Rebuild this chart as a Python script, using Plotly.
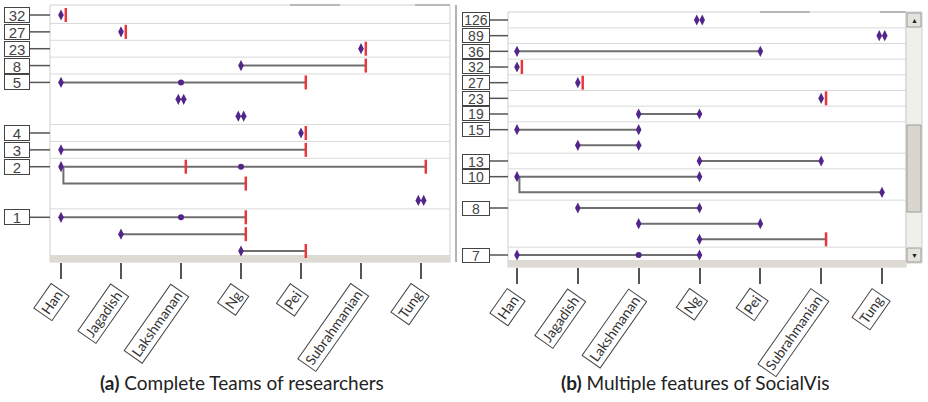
import plotly.graph_objects as go

W, H = 928, 402

researchers = ["Han", "Jagadish", "Lakshmanan", "Ng", "Pei", "Subrahmanian", "Tung"]

# (a) complete teams of researchers, one entry per sub-row
a_team = ["32", "27", "23", "8", "5", "", "", "4", "3", "2", "", "", "1", "", ""]
a_from = ["Han", "Jagadish", "Subrahmanian", "Ng", "Han", "Lakshmanan", "Ng", "Pei",
          "Han", "Han", "Han", "Tung", "Han", "Jagadish", "Ng"]
a_to = ["Han", "Jagadish", "Subrahmanian", "Subrahmanian", "Pei", "Lakshmanan", "Ng", "Pei",
        "Pei", "Tung", "Ng", "Tung", "Ng", "Ng", "Pei"]
a_start = ["diamond"] * 10 + ["branch"] + ["diamond"] * 4
a_end = ["tick", "tick", "tick", "tick", "tick", "pair", "pair", "tick",
         "tick", "tick", "tick", "pair", "tick", "tick", "tick"]
a_dots = [[], [], [], [], ["Lakshmanan"], [], [], [], [], ["Ng"], [], [], ["Lakshmanan"], [], []]
a_marks = [[], [], [], [], [], [], [], [], [], ["Lakshmanan"], [], [], [], [], []]

# (b) multiple features of SocialVis
b_team = ["126", "89", "36", "32", "27", "23", "19", "15", "", "13", "10", "", "8", "", "", "7"]
b_from = ["Ng", "Tung", "Han", "Han", "Jagadish", "Subrahmanian", "Lakshmanan", "Han",
          "Jagadish", "Ng", "Han", "Han", "Jagadish", "Lakshmanan", "Ng", "Han"]
b_to = ["Ng", "Tung", "Pei", "Han", "Jagadish", "Subrahmanian", "Ng", "Lakshmanan",
        "Lakshmanan", "Subrahmanian", "Ng", "Tung", "Ng", "Pei", "Subrahmanian", "Ng"]
b_start = ["diamond"] * 11 + ["branch"] + ["diamond"] * 4
b_end = ["pair", "pair", "diamond", "tick", "tick", "tick", "diamond", "diamond",
         "diamond", "diamond", "diamond", "diamond", "diamond", "diamond", "tick", "diamond"]
b_dots = [[]] * 15 + [["Lakshmanan"]]
b_marks = [[]] * 16

PURPLE = "#52258a"
RED = "#e8383d"
LINE = "#6f6f6f"
TICK = 0.08
PAIR = 0.045
BRANCH = 0.04


def px(x):
    return x / W


def py(y):
    return 1 - y / H


def panel_traces(team, frm, to, start, end, dots, marks, xa, ya):
    lx, ly, dx, dy, tx, ty, cx, cy = [], [], [], [], [], [], [], []
    for i in range(len(frm)):
        a = researchers.index(frm[i])
        b = researchers.index(to[i])
        if end[i] == "pair":
            dx += [a - PAIR, a + PAIR]
            dy += [i, i]
            continue
        x_end = b + TICK if end[i] == "tick" else b
        if start[i] == "branch":
            lx += [a + BRANCH, a + BRANCH, x_end, None]
            ly += [i - 1, i, i, None]
        else:
            dx.append(a)
            dy.append(i)
            if a != b:
                lx += [a, x_end, None]
                ly += [i, i, None]
        if end[i] == "tick":
            tx.append(x_end)
            ty.append(i)
        elif a != b:
            dx.append(b)
            dy.append(i)
        for d in dots[i]:
            cx.append(researchers.index(d))
            cy.append(i)
        for m in marks[i]:
            tx.append(researchers.index(m) + TICK)
            ty.append(i)
    ax = dict(xaxis=xa, yaxis=ya, showlegend=False, hoverinfo="skip")
    return [
        go.Scatter(x=lx, y=ly, mode="lines", line=dict(color=LINE, width=2), **ax),
        go.Scatter(x=cx, y=cy, mode="markers",
                   marker=dict(symbol="circle", size=6, color=PURPLE), **ax),
        go.Scatter(x=dx, y=dy, mode="markers",
                   marker=dict(symbol="diamond-tall", size=8, color=PURPLE), **ax),
        go.Scatter(x=tx, y=ty, mode="markers",
                   marker=dict(symbol="line-ns", size=10,
                               line=dict(color=RED, width=2.5)), **ax),
    ]


fig = go.Figure()
for t in panel_traces(a_team, a_from, a_to, a_start, a_end, a_dots, a_marks, "x", "y"):
    fig.add_trace(t)
for t in panel_traces(b_team, b_from, b_to, b_start, b_end, b_dots, b_marks, "x2", "y2"):
    fig.add_trace(t)

# panel geometry in pixels: left, right, top, bottom, first row y, last row y, Han x, Tung x
geo = {
    "a": dict(l=50, r=450, t=5, b=262, r0=15, r1=251, x0=61, x1=421, lab=30, bw=24,
              bh=14, fs=15, cx=242),
    "b": dict(l=508, r=906, t=12, b=267, r0=20, r1=255, x0=517, x1=882, lab=490, bw=26,
              bh=13, fs=14, cx=695),
}
panels = [("a", "x", "y", a_team, "<b>(a)</b> Complete Teams of researchers"),
          ("b", "x2", "y2", b_team, "<b>(b)</b> Multiple features of SocialVis")]

shapes, annotations = [], []
axes = {}
for key, xa, ya, team, caption in panels:
    g = geo[key]
    n = len(team)
    step = (g["r1"] - g["r0"]) / (n - 1)
    ystep = (g["x1"] - g["x0"]) / 6
    xr = [(g["l"] - g["x0"]) / ystep, (g["r"] - g["x0"]) / ystep]
    yr = [(g["b"] - g["r0"]) / step, -(g["r0"] - g["t"]) / step]
    xname = "xaxis" if xa == "x" else "xaxis2"
    yname = "yaxis" if ya == "y" else "yaxis2"
    axes[xname] = dict(domain=[px(g["l"]), px(g["r"])], range=xr, anchor=ya,
                       showgrid=False, zeroline=False, showticklabels=False,
                       tickvals=list(range(len(researchers))), ticks="outside",
                       ticklen=16, tickwidth=1.5, tickcolor="#555", showline=False)
    axes[yname] = dict(domain=[py(g["b"]), py(g["t"])], range=yr, anchor=xa,
                       showgrid=False, zeroline=False, showticklabels=False,
                       ticks="", showline=False)
    xd, yd = xa + " domain", ya + " domain"
    # frame
    shapes.append(dict(type="rect", xref=xd, yref=yd, x0=0, x1=1, y0=0, y1=1,
                       line=dict(color="#cfcfcf", width=1), layer="below"))
    # grey band at bottom
    shapes.append(dict(type="rect", xref=xd, yref=yd, x0=0, x1=1, y0=0,
                       y1=7 / (g["b"] - g["t"]), fillcolor="#dcdad2",
                       line=dict(width=0), layer="below"))
    # separators and team labels
    for i, lab in enumerate(team):
        if not lab:
            continue
        if i > 0:
            shapes.append(dict(type="line", xref=xd, yref=ya, x0=0, x1=1,
                               y0=i - 0.5, y1=i - 0.5,
                               line=dict(color="#d9d9d9", width=1), layer="below"))
        shapes.append(dict(type="line", xref="paper", yref=ya, x0=px(g["lab"]),
                           x1=px(g["l"]), y0=i, y1=i, line=dict(color="#555", width=1.5)))
        annotations.append(dict(text=lab, x=px(g["lab"]), xref="paper", xanchor="right",
                                y=i, yref=ya, yanchor="middle", showarrow=False,
                                width=g["bw"], height=g["bh"],
                                bordercolor="#444", borderwidth=1, borderpad=0,
                                bgcolor="white",
                                font=dict(family="Liberation Sans", size=g["fs"],
                                          color="#444")))
    # rotated researcher labels
    for j, name in enumerate(researchers):
        annotations.append(dict(text=name, x=j + 0.14, xref=xa, xanchor="right",
                                y=py(g["b"] + 21), yref="paper", yanchor="top",
                                textangle=-55, showarrow=False, bordercolor="#444",
                                borderwidth=1, borderpad=2, bgcolor="white",
                                font=dict(family="Lato", size=14, color="#333")))
    annotations.append(dict(text=caption, x=px(g["cx"]),
                            xref="paper", xanchor="center", y=py(382), yref="paper",
                            yanchor="middle", showarrow=False,
                            font=dict(family="Lato", size=19, color="#222")))

# top header strips
for x0, x1, y in [(290, 340, 5), (415, 450, 5), (760, 810, 12), (880, 906, 12)]:
    shapes.append(dict(type="line", xref="paper", yref="paper", x0=px(x0), x1=px(x1),
                       y0=py(y), y1=py(y), line=dict(color="#b8b8b8", width=2)))
# clipped edge of left panel
shapes.append(dict(type="line", xref="paper", yref="paper", x0=px(456), x1=px(456),
                   y0=py(5), y1=py(262), line=dict(color="#9a9a9a", width=1.5)))

# vertical scrollbar of panel (b)
shapes += [
    dict(type="rect", xref="paper", yref="paper", x0=px(906), x1=px(922), y0=py(263),
         y1=py(12), fillcolor="#efefec", line=dict(color="#cfcfcf", width=1)),
    dict(type="rect", xref="paper", yref="paper", x0=px(907), x1=px(921), y0=py(27),
         y1=py(13), fillcolor="#e4e3dd", line=dict(color="#9c9c9c", width=1)),
    dict(type="rect", xref="paper", yref="paper", x0=px(907), x1=px(921), y0=py(212),
         y1=py(125), fillcolor="#d8d6ce", line=dict(color="#9c9c9c", width=1)),
    dict(type="rect", xref="paper", yref="paper", x0=px(907), x1=px(921), y0=py(262),
         y1=py(248), fillcolor="#e4e3dd", line=dict(color="#9c9c9c", width=1)),
]
for txt, y in [("▲", 20), ("▼", 255)]:
    annotations.append(dict(text=txt, x=px(914), y=py(y), xref="paper", yref="paper",
                            xanchor="center", yanchor="middle",
                            showarrow=False, font=dict(size=7, color="#222")))

fig.update_layout(
    width=W, height=H,
    margin=dict(l=0, r=0, t=0, b=0),
    paper_bgcolor="white", plot_bgcolor="white",
    shapes=shapes, annotations=annotations,
    **axes,
)

# the page body has a default 8px margin; drop it so the figure fills the window
fig.write_html("out.html", config={"displayModeBar": False},
               post_script="document.body.style.margin='0';")
